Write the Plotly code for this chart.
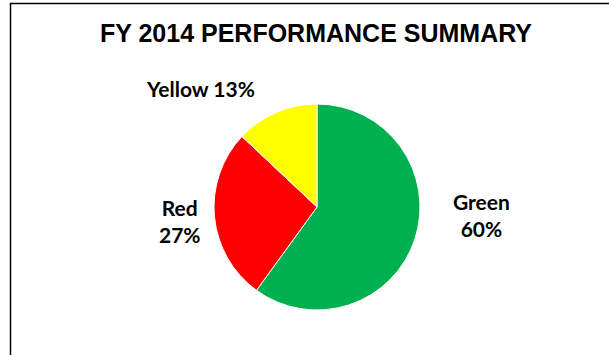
import plotly.graph_objects as go

# Performance rating breakdown
categories = ["Green", "Red", "Yellow"]
shares = [60, 27, 13]
colors = ["#00B050", "#FF0000", "#FFFF00"]
title_text = "FY 2014 PERFORMANCE SUMMARY"

W, H = 609, 355

fig = go.Figure(
    go.Pie(
        labels=categories,
        values=shares,
        sort=False,
        direction="clockwise",
        rotation=0,
        marker=dict(colors=colors, line=dict(color="white", width=1)),
        textinfo="none",
        hoverinfo="label+percent",
        showlegend=False,
        domain=dict(x=[214 / W, 420 / W], y=[45 / H, 251 / H]),
    )
)

# label placement (pixel centres) per category
label_pos = {"Green": (481, 215), "Red": (180, 221), "Yellow": (200, 88)}
label_sep = {"Green": "<br>", "Red": "<br>", "Yellow": " "}

annotations = []
for cat, val in zip(categories, shares):
    px, py = label_pos[cat]
    annotations.append(
        dict(
            text=f"{cat}{label_sep[cat]}{val}%",
            x=px / W,
            y=1 - py / H,
            xref="paper",
            yref="paper",
            xanchor="center",
            yanchor="middle",
            showarrow=False,
            font=dict(family="Lato", size=21, color="#000000", weight="bold"),
        )
    )

annotations.append(
    dict(
        text=f"<b>{title_text}</b>",
        x=315.5 / W,
        y=1 - 33.5 / H,
        xref="paper",
        yref="paper",
        xanchor="center",
        yanchor="middle",
        showarrow=False,
        font=dict(family="Liberation Sans, Arial", size=25, color="#000000"),
    )
)

fig.update_layout(
    width=W,
    height=H,
    margin=dict(l=0, r=0, t=0, b=0),
    paper_bgcolor="white",
    plot_bgcolor="white",
    annotations=annotations,
    shapes=[
        dict(
            type="rect",
            xref="paper",
            yref="paper",
            x0=10.5 / W,
            x1=1.05,
            y0=-0.05,
            y1=1 - 3.5 / H,
            line=dict(color="#000000", width=1.5),
            fillcolor="rgba(0,0,0,0)",
        )
    ],
)

fig.write_html("out.html")
